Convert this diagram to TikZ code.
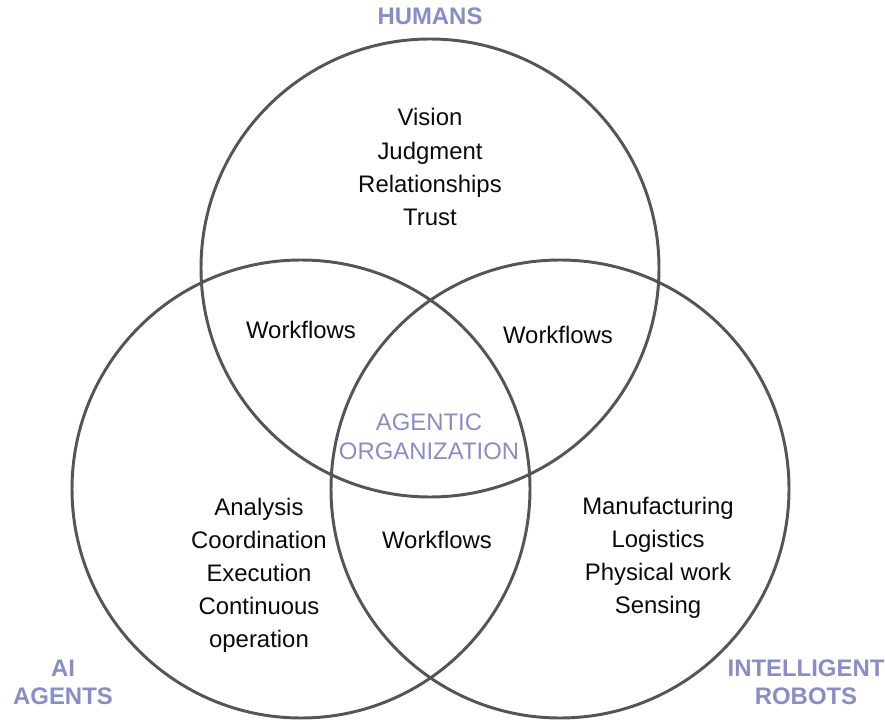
\documentclass[tikz,border=0pt]{standalone}
\usepackage{fontspec}
\setmainfont{Liberation Sans}
\usetikzlibrary{positioning}
\definecolor{ring}{RGB}{85,85,85}
\definecolor{lilac}{RGB}{136,140,200}
\definecolor{ink}{RGB}{10,10,10}
\tikzset{
  set/.style={draw=ring,line width=2.1pt},
  item/.style={text=ink,align=center,font=\fontsize{17}{23.5}\selectfont},
  title/.style={text=lilac,align=center,font=\fontsize{17}{20}\selectfont\bfseries},
  core/.style={text=lilac,align=center,font=\fontsize{17}{20.5}\selectfont},
}
\begin{document}
\begin{tikzpicture}[x=0.025cm,y=-0.025cm]
  \useasboundingbox (0,0) rectangle (885,720);
  % the three sets
  \coordinate (h) at (430,268);
  \coordinate (a) at (301,489);
  \coordinate (r) at (560,489);
  \foreach \c in {h,a,r}
    \draw[set] (\c) circle (229);
  % set titles
  \node[title] (humans) at (430,16) {HUMANS};
  \node[title] (agents) at (63,682) {AI\\AGENTS};
  \node[title] (robots) at (806,682) {INTELLIGENT\\ROBOTS};
  % contents
  \node[item] (hlist) at (430,167) {Vision\\Judgment\\Relationships\\Trust};
  \node[item] (alist) at (259,575) {Analysis\\Coordination\\Execution\\Continuous\\operation};
  \node[item] (rlist) at (658,558) {Manufacturing\\Logistics\\Physical work\\Sensing};
  \node[item] (ha) at (301,330) {Workflows};
  \node[item] (hr) at (558,335) {Workflows};
  \node[item] (ar) at (437,540) {Workflows};
  \node[core] (org) at (429,437) {AGENTIC\\ORGANIZATION};
\end{tikzpicture}
\end{document}
